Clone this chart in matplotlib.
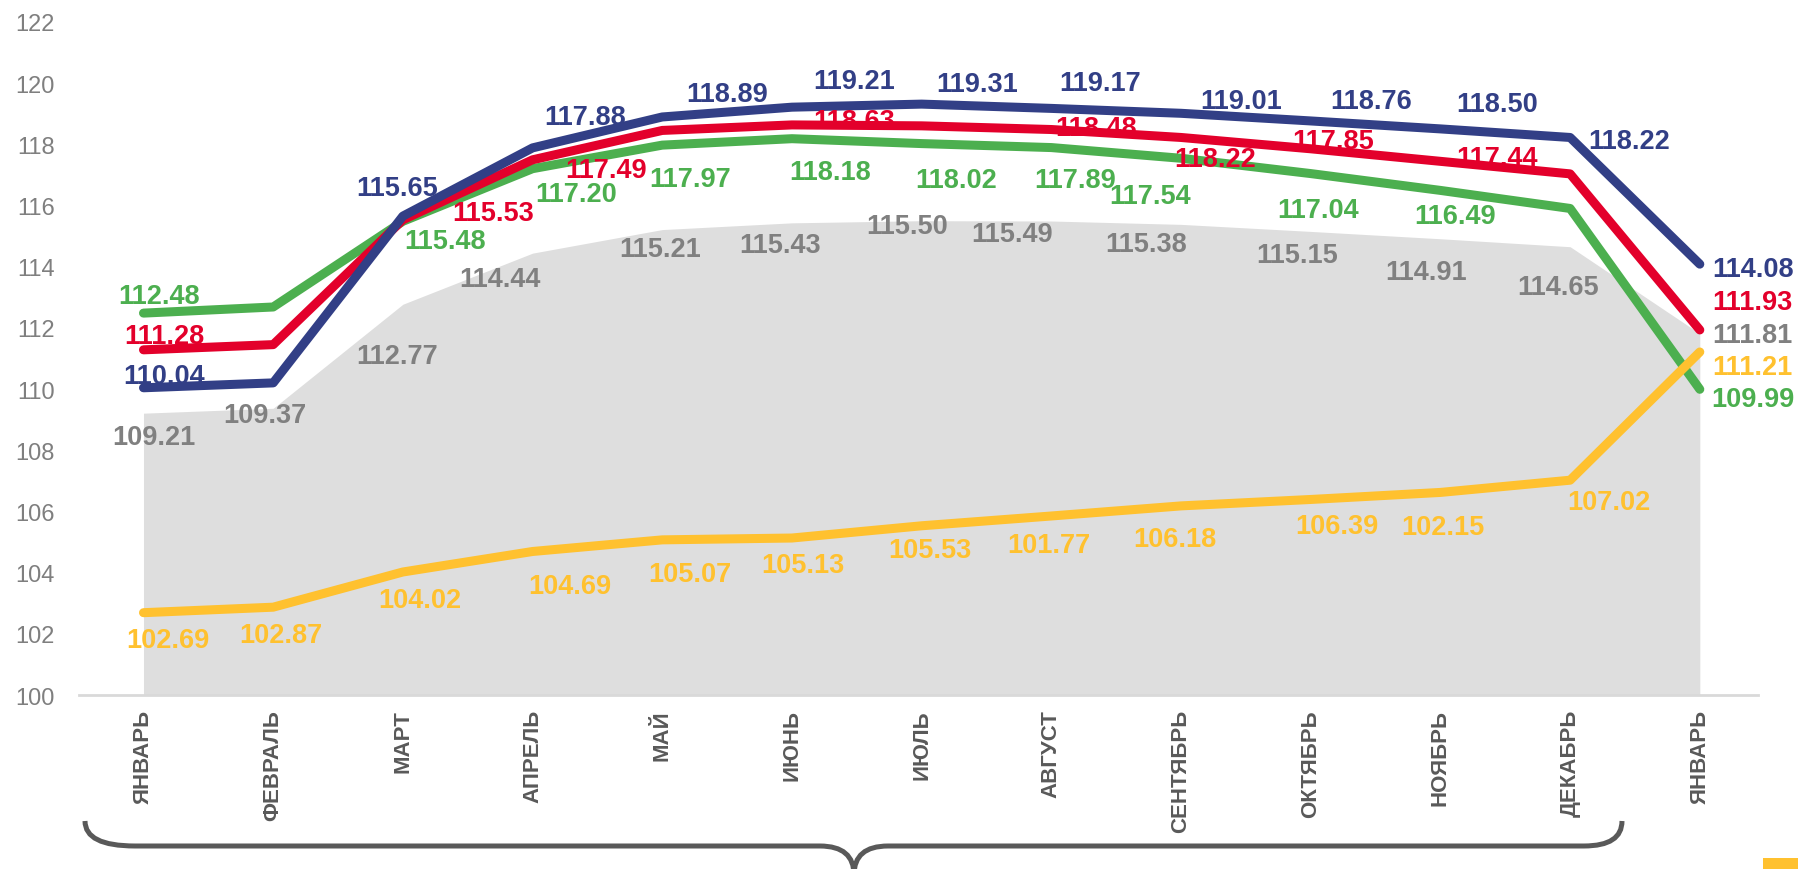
import matplotlib
matplotlib.use('Agg')
import matplotlib.pyplot as plt
from matplotlib.path import Path
from matplotlib.patches import PathPatch, Rectangle

plt.rcParams['font.family'] = ['Liberation Sans', 'DejaVu Sans']

# data
months = ['ЯНВАРЬ', 'ФЕВРАЛЬ', 'МАРТ', 'АПРЕЛЬ', 'МАЙ', 'ИЮНЬ', 'ИЮЛЬ',
          'АВГУСТ', 'СЕНТЯБРЬ', 'ОКТЯБРЬ', 'НОЯБРЬ', 'ДЕКАБРЬ', 'ЯНВАРЬ']

blue_vals = [110.04, 110.20, 115.65, 117.88, 118.89, 119.21, 119.31, 119.17, 119.01, 118.76, 118.50, 118.22, 114.08]
blue_labels = ['110.04', None, '115.65', '117.88', '118.89', '119.21', '119.31', '119.17', '119.01', '118.76', '118.50', '118.22', '114.08']

red_vals = [111.28, 111.45, 115.53, 117.49, 118.45, 118.63, 118.60, 118.48, 118.22, 117.85, 117.44, 117.03, 111.93]
red_labels = ['111.28', None, '115.53', '117.49', None, '118.63', None, '118.48', '118.22', '117.85', '117.44', None, '111.93']

green_vals = [112.48, 112.68, 115.48, 117.20, 117.97, 118.18, 118.02, 117.89, 117.54, 117.04, 116.49, 115.90, 109.99]
green_labels = ['112.48', None, '115.48', '117.20', '117.97', '118.18', '118.02', '117.89', '117.54', '117.04', '116.49', None, '109.99']

grey_vals = [109.21, 109.37, 112.77, 114.44, 115.21, 115.43, 115.50, 115.49, 115.38, 115.15, 114.91, 114.65, 111.81]
grey_labels = ['109.21', '109.37', '112.77', '114.44', '115.21', '115.43', '115.50', '115.49', '115.38', '115.15', '114.91', '114.65', '111.81']

yellow_vals = [102.69, 102.87, 104.02, 104.69, 105.07, 105.13, 105.53, 105.85, 106.18, 106.39, 106.62, 107.02, 111.21]
yellow_labels = ['102.69', '102.87', '104.02', '104.69', '105.07', '105.13', '105.53', '101.77', '106.18', '106.39', '102.15', '107.02', '111.21']

# label offsets from their point, in pixels (dx right, dy down)
blue_off = [(21, -15), None, (-6, -31), (53, -34), (65, -26), (62, -29), (55, -23), (49, -28), (60, -15), (60, -23), (57, -28), (59, 1), (53, 2)]
red_off = [(21, -17), None, (90, -10), (73, 7), None, (62, -7), None, (45, -5), (34, 19), (22, -11), (57, -6), None, (53, -31)]
green_off = [(16, -20), None, (42, 17), (44, 22), (28, 31), (38, 30), (34, 33), (24, 29), (-31, 35), (7, 33), (15, 23), None, (53, 7)]
grey_off = [(10, 21), (-8, 4), (-6, 49), (-33, 23), (-2, 16), (-12, 19), (-15, 2), (-39, 10), (-35, 17), (-14, 21), (-14, 30), (-12, 37), (53, -2)]
yellow_off = [(24, 24), (8, 25), (17, 25), (37, 32), (28, 31), (11, 24), (8, 21), (-2, 26), (-6, 30), (26, 24), (2, 32), (39, 19), (53, 12)]

BLUE = '#323F86'
RED = '#E3002B'
GREEN = '#4CAF4F'
YELLOW = '#FFC12F'
GREY_FILL = '#DEDEDE'
GREY_TXT = '#808080'

W, H = 1798, 870
fig = plt.figure(figsize=(W / 100, H / 100), dpi=100)
ax = fig.add_axes([78.65 / W, 1 - 696 / H, 1686 / W, 673.2 / H])

x = list(range(len(months)))
ax.fill_between(x, 100, grey_vals, color=GREY_FILL, lw=0, zorder=1)
lw = 6.5
ax.plot(x, green_vals, color=GREEN, lw=lw, solid_capstyle='round', zorder=3)
ax.plot(x, red_vals, color=RED, lw=lw, solid_capstyle='round', zorder=3)
ax.plot(x, blue_vals, color=BLUE, lw=lw, solid_capstyle='round', zorder=4)
ax.plot(x, yellow_vals, color=YELLOW, lw=lw, solid_capstyle='round', zorder=4)


def put_labels(vals, labels, offs, color):
    for i, (v, t, o) in enumerate(zip(vals, labels, offs)):
        if t is None:
            continue
        dx, dy = o
        ax.annotate(t, (i, v), xytext=(dx, -(dy + 10)), textcoords='offset pixels',
                    ha='center', va='baseline', fontsize=19.5, fontweight='bold',
                    color=color, zorder=6, annotation_clip=False)


put_labels(grey_vals, grey_labels, grey_off, GREY_TXT)
put_labels(yellow_vals, yellow_labels, yellow_off, YELLOW)
put_labels(green_vals, green_labels, green_off, GREEN)
put_labels(red_vals, red_labels, red_off, RED)
put_labels(blue_vals, blue_labels, blue_off, BLUE)

ax.set_xlim(-0.5, len(months) - 0.5)
ax.set_ylim(100, 122)
ax.set_yticks(range(100, 123, 2))
ax.set_xticks(x)
ax.set_xticklabels(months, rotation=90, fontweight='bold', fontsize=16, color='#595959')
ax.tick_params(axis='y', length=0, pad=17, labelsize=17, labelcolor='#7F7F7F')
ax.tick_params(axis='x', length=0, pad=10)
for s in ['top', 'right', 'left']:
    ax.spines[s].set_visible(False)
ax.spines['bottom'].set_color('#D9D9D9')
ax.spines['bottom'].set_linewidth(2)
ax.spines['bottom'].set_bounds(-0.5, 12.45)


# curly brace under the months
def fp(px, py):
    return (px / W, 1 - py / H)


brace = [(85, 822), (85, 847), (135, 847), (820, 847), (854, 847), (854, 876),
         (854, 847), (888, 847), (1584, 847), (1622, 847), (1622, 822)]
codes = [Path.MOVETO, Path.CURVE3, Path.CURVE3, Path.LINETO, Path.CURVE3, Path.CURVE3,
         Path.CURVE3, Path.CURVE3, Path.LINETO, Path.CURVE3, Path.CURVE3]
fig.patches.append(PathPatch(Path([fp(*p) for p in brace], codes), transform=fig.transFigure,
                             fill=False, edgecolor='#595959', lw=3.6, capstyle='butt'))
fig.patches.append(Rectangle((1763 / W, 0), 35 / W, 11 / H, transform=fig.transFigure,
                             color=YELLOW, lw=0))

fig.savefig('out.png', dpi=100)
